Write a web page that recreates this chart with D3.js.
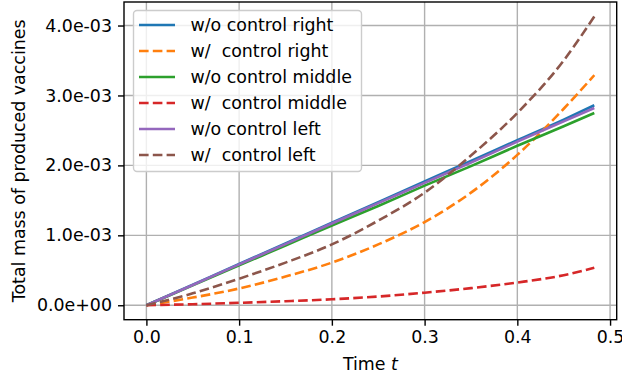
<!DOCTYPE html>
<html>
<head>
<meta charset="utf-8">
<script src="https://cdn.jsdelivr.net/npm/d3@7"></script>
<style>
  body { margin: 0; background: #fff; }
  svg text { font-family: "DejaVu Sans", sans-serif; fill: #000; }
</style>
</head>
<body>
<div id="chart"></div>
<script>
// time samples (t)
const time_t = [0, 0.05, 0.1, 0.15, 0.2, 0.25, 0.3, 0.35, 0.4, 0.45, 0.483]

// values in units of 1e-3
const wo_right  = [0, 0.295, 0.59, 0.885, 1.18, 1.475, 1.77, 2.065, 2.36, 2.655, 2.86]
const w_right   = [0, 0.11, 0.24, 0.41, 0.61, 0.87, 1.19, 1.61, 2.15, 2.81, 3.29]
const wo_middle = [0, 0.285, 0.57, 0.855, 1.14, 1.42, 1.71, 1.99, 2.28, 2.56, 2.75]
const w_middle  = [0, 0.015, 0.035, 0.058, 0.085, 0.125, 0.18, 0.245, 0.325, 0.43, 0.537]
const wo_left   = [0, 0.29, 0.585, 0.875, 1.17, 1.46, 1.75, 2.04, 2.34, 2.63, 2.82]
const w_left    = [0, 0.17, 0.38, 0.61, 0.87, 1.21, 1.61, 2.14, 2.75, 3.5, 4.13]

const series_names = ['w/o control right', 'w/  control right', 'w/o control middle',
                      'w/  control middle', 'w/o control left', 'w/  control left']
const series_values = [wo_right, w_right, wo_middle, w_middle, wo_left, w_left]
const series_colors = ['#1f77b4', '#ff7f0e', '#2ca02c', '#d62728', '#9467bd', '#8c564b']
const series_dashed = [false, true, false, true, false, true]

const x_ticks = [0, 0.1, 0.2, 0.3, 0.4, 0.5]
const x_tick_labels = ['0.0', '0.1', '0.2', '0.3', '0.4', '0.5']
const y_ticks = [0, 1, 2, 3, 4]
const y_tick_labels = ['0.0e+00', '1.0e-03', '2.0e-03', '3.0e-03', '4.0e-03']

const W = 622, H = 377
const box = { left: 124, right: 616.7, top: 2, bottom: 319.7 } // 轴区域
const fs = 17.4
const lw = 2.6

const svg = d3.select('#chart').append('svg')
              .attr('width', W)
              .attr('height', H)

// matplotlib style 5% margins
const xExt = d3.extent(time_t)
const yExt = [d3.min(series_values, s => d3.min(s)), d3.max(series_values, s => d3.max(s))]
const xPad = (xExt[1] - xExt[0]) * 0.05, yPad = (yExt[1] - yExt[0]) * 0.05

const x = d3.scaleLinear().domain([xExt[0] - xPad, xExt[1] + xPad]).range([box.left, box.right])
const y = d3.scaleLinear().domain([yExt[0] - yPad, yExt[1] + yPad]).range([box.bottom, box.top])

// grid
const grid = svg.append('g').attr('class', 'grid')
grid.selectAll('.gx').data(x_ticks).join('line')
    .attr('x1', d => x(d)).attr('x2', d => x(d))
    .attr('y1', box.top).attr('y2', box.bottom)
    .attr('stroke', '#b0b0b0').attr('stroke-width', 1.4)
grid.selectAll('.gy').data(y_ticks).join('line')
    .attr('x1', box.left).attr('x2', box.right)
    .attr('y1', d => y(d)).attr('y2', d => y(d))
    .attr('stroke', '#b0b0b0').attr('stroke-width', 1.4)

// lines
const line = d3.line()
               .x((d, i) => x(time_t[i]))
               .y(d => y(d))
               .curve(d3.curveMonotoneX)

svg.append('g').selectAll('path')
   .data(series_values)
   .join('path')
   .attr('d', d => line(d))
   .attr('fill', 'none')
   .attr('stroke', (d, i) => series_colors[i])
   .attr('stroke-width', lw)
   .attr('stroke-dasharray', (d, i) => series_dashed[i] ? '9.6,4.2' : null)

// axes
const xAxis = svg.append('g')
                 .attr('transform', `translate(0,${box.bottom})`)
                 .call(d3.axisBottom(x).tickValues(x_ticks)
                         .tickFormat((d, i) => x_tick_labels[i])
                         .tickSize(6).tickPadding(5))
const yAxis = svg.append('g')
                 .attr('transform', `translate(${box.left},0)`)
                 .call(d3.axisLeft(y).tickValues(y_ticks)
                         .tickFormat((d, i) => y_tick_labels[i])
                         .tickSize(6).tickPadding(6))
for (const ax of [xAxis, yAxis]) {
    ax.select('.domain').remove()
    ax.selectAll('.tick line').attr('stroke', '#000').attr('stroke-width', 1.4)
    ax.selectAll('.tick text').attr('font-size', fs).attr('font-family', '"DejaVu Sans", sans-serif')
}

// spines
svg.append('rect')
   .attr('x', box.left).attr('y', box.top)
   .attr('width', box.right - box.left).attr('height', box.bottom - box.top)
   .attr('fill', 'none').attr('stroke', '#000').attr('stroke-width', 1.4)

// axis labels
const xl = svg.append('text')
              .attr('x', (box.left + box.right) / 2)
              .attr('y', 370)
              .attr('text-anchor', 'middle')
              .attr('font-size', fs)
xl.append('tspan').text('Time ')
xl.append('tspan').attr('font-style', 'italic').text('t')

svg.append('text')
   .attr('transform', `translate(25,${(box.top + box.bottom) / 2}) rotate(-90)`)
   .attr('text-anchor', 'middle')
   .attr('font-size', fs)
   .text('Total mass of produced vaccines')

// legend
const lg = svg.append('g')
lg.append('rect')
  .attr('x', 133.5).attr('y', 10.5)
  .attr('width', 228).attr('height', 161)
  .attr('rx', 3.5)
  .attr('fill', '#fff').attr('fill-opacity', 0.8)
  .attr('stroke', '#cccccc').attr('stroke-width', 1.4)

const rows = lg.selectAll('g.row')
               .data(series_names)
               .join('g')
               .attr('class', 'row')
               .attr('transform', (d, i) => `translate(0,${25 + i * 26})`)
rows.append('line')
    .attr('x1', 139).attr('x2', 175)
    .attr('y1', 0).attr('y2', 0)
    .attr('stroke', (d, i) => series_colors[i])
    .attr('stroke-width', lw)
    .attr('stroke-dasharray', (d, i) => series_dashed[i] ? '9.6,4.2' : null)
rows.append('text')
    .attr('x', 190.5)
    .attr('y', 0)
    .attr('dy', '0.35em')
    .attr('font-size', fs)
    .style('white-space', 'pre')
    .text(d => d)
</script>
</body>
</html>
